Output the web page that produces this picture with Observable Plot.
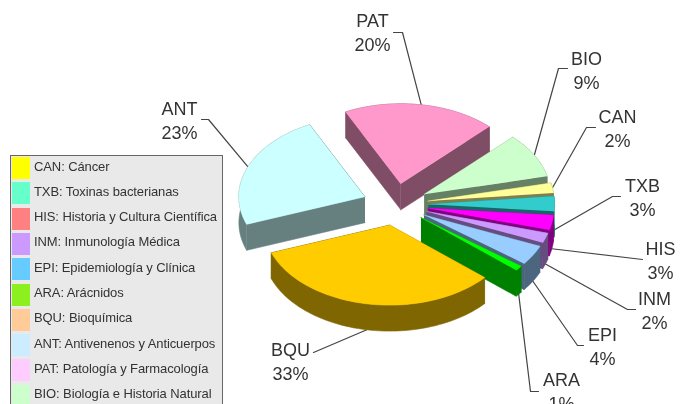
<!DOCTYPE html>
<html lang="es">
<head>
<meta charset="utf-8">
<script src="https://cdn.jsdelivr.net/npm/d3@7"></script>
<script src="https://cdn.jsdelivr.net/npm/@observablehq/plot@0.6"></script>
<style>
  html, body { margin: 0; padding: 0; background: #fff; width: 682px; height: 404px; overflow: hidden; }
  #wrap { position: relative; width: 682px; height: 404px; overflow: hidden; filter: blur(0.4px); }
  #wrap svg { display: block; }
  #legend { position: absolute; left: 10px; top: 155px; width: 211px; height: 260px; background: #e9e9e9;
            border: 1px solid #666; font: 13px "Liberation Sans", Arial, sans-serif; color: #333; }
  .row { position: absolute; left: 0; height: 22px; line-height: 22px; white-space: nowrap; }
  .sw { position: absolute; left: 1px; top: 0; width: 18px; height: 22px; }
  .tx { position: absolute; left: 23px; top: -1.5px; letter-spacing: -0.1px; }
</style>
</head>
<body>
<div id="wrap"></div>
<script>
// Slices, clockwise from the first one after PAT
const codes = ["BIO", "CAN", "TXB", "HIS", "INM", "EPI", "ARA", "BQU", "ANT", "PAT"];
const percents = [9, 2, 3, 3, 2, 4, 1, 33, 23.4, 19.6];
const sliceColors = ["#CCFFCC", "#FFFF99", "#33CCCC", "#FF00FF", "#CC99FF", "#99CCFF", "#00FF00", "#FFCC00", "#CCFFFF", "#FF99CC"];

// Legend, top to bottom
const legendLabels = [
  "CAN: Cáncer", "TXB: Toxinas bacterianas", "HIS: Historia y Cultura Científica",
  "INM: Inmunología Médica", "EPI: Epidemiología y Clínica", "ARA: Arácnidos",
  "BQU: Bioquímica", "ANT: Antivenenos y Anticuerpos", "PAT: Patología y Farmacología",
  "BIO: Biología e Historia Natural"
];
const legendColors = ["#FFFF00", "#66FFCC", "#FF8080", "#CC99FF", "#66CCFF", "#8CF01E", "#FFCC99", "#CCECFF", "#FFCCFF", "#CCFFCC"];

// Hand-placed annotations, as in the original: label centre and leader elbow
const labelAt = {
  BIO: [586, 69], CAN: [617, 127], TXB: [642, 196], HIS: [660, 259], INM: [654, 309],
  EPI: [602, 345], ARA: [561, 390], BQU: [290, 360], ANT: [179, 119], PAT: [372, 31]
};
const leaderVia = {
  BIO: [[558, 68], [567, 68]], CAN: [[586, 127], [595, 127]], TXB: [[612, 196], [620, 196]],
  HIS: [[642, 259]], INM: [[627, 309], [635, 309]], EPI: [[577, 345], [583, 345]],
  ARA: [[530, 391], [538, 391]], BQU: [[313, 352]], ANT: [[208, 119], [201, 119]], PAT: [[402, 32], [393, 32]]
};

// Pie geometry (projected ellipse)
const cx = 395, cy = 204, rx = 126, ry = 80, explode = 33, depth = 26, firstAngle = -45.4;

const rad = (d) => d * Math.PI / 180;
let acc = firstAngle;
const slices = codes.map((code, i) => {
  const a0 = acc, a1 = acc + percents[i] * 3.6;
  acc = a1;
  const mid = (a0 + a1) / 2;
  const ox = cx + explode * Math.cos(rad(mid));
  const oy = cy + explode * (ry / rx) * Math.sin(rad(mid));
  const rim = (a) => [ox + rx * Math.cos(rad(a)), oy + ry * Math.sin(rad(a))];
  const n = Math.max(2, Math.ceil((a1 - a0) / 2));
  const arc = d3.range(n + 1).map((k) => rim(a0 + (a1 - a0) * k / n));
  const c = d3.rgb(sliceColors[i]);
  const dark = d3.rgb(c.r / 2, c.g / 2, c.b / 2).formatHex();
  return { code, i, a0, a1, mid, ox, oy, rim, arc, top: sliceColors[i], dark };
});

// Painter's order: back slices first
const order = slices.slice().sort((p, q) => Math.sin(rad(p.mid)) - Math.sin(rad(q.mid)));
const down = (pts) => pts.map(([x, y]) => [x, y + depth]);
const faces = [];
const pushFace = (id, pts, color) => pts.forEach(([x, y]) => faces.push({ id, x, y, color }));
order.forEach((s) => {
  const apex = [s.ox, s.oy], first = s.arc[0], last = s.arc[s.arc.length - 1];
  pushFace(s.code + "-rim", [...s.arc, ...down(s.arc).reverse()], s.dark);
  pushFace(s.code + "-cut0", [apex, first, ...down([first, apex])], s.dark);
  pushFace(s.code + "-cut1", [apex, last, ...down([last, apex])], s.dark);
  pushFace(s.code + "-top", [apex, ...s.arc], s.top);
});

// Leader lines begin on the slice's rim at its mid-angle
const leaders = [];
slices.forEach((s) => {
  const [x0, y0] = s.rim(s.mid);
  const start = [x0, Math.sin(rad(s.mid)) > -0.05 ? y0 + depth : y0];
  [start, ...leaderVia[s.code]].forEach(([x, y]) => leaders.push({ id: s.code, x, y }));
});
const labels = slices.map((s, i) => ({
  x: labelAt[s.code][0], y: labelAt[s.code][1], text: s.code + "\n" + Math.round(percents[i]) + "%"
}));

const chart = Plot.plot({
  width: 682, height: 404, margin: 0,
  x: { domain: [0, 682], range: [0, 682], axis: null },
  y: { domain: [0, 404], range: [0, 404], axis: null },
  color: { type: "identity" },
  style: { background: "transparent" },
  marks: [
    Plot.line(leaders, { x: "x", y: "y", z: "id", stroke: "#444", strokeWidth: 1.2, curve: "linear" }),
    Plot.line(faces, { x: "x", y: "y", z: "id", fill: "color", stroke: "color", strokeWidth: 0.6, curve: "linear" }),
    Plot.text(labels, { x: "x", y: "y", text: "text", lineHeight: 1.3, lineAnchor: "middle", textAnchor: "middle",
      fontSize: 18, fill: "#333", fontFamily: "Liberation Sans, Arial, sans-serif" })
  ]
});
const wrap = document.getElementById("wrap");
wrap.appendChild(chart);

const legend = document.createElement("div");
legend.id = "legend";
legendLabels.forEach((t, i) => {
  const row = document.createElement("div");
  row.className = "row";
  row.style.top = (1 + i * 25.3) + "px";
  const sw = document.createElement("div");
  sw.className = "sw";
  sw.style.background = legendColors[i];
  const tx = document.createElement("div");
  tx.className = "tx";
  tx.textContent = t;
  row.append(sw, tx);
  legend.appendChild(row);
});
wrap.appendChild(legend);
</script>
</body>
</html>
